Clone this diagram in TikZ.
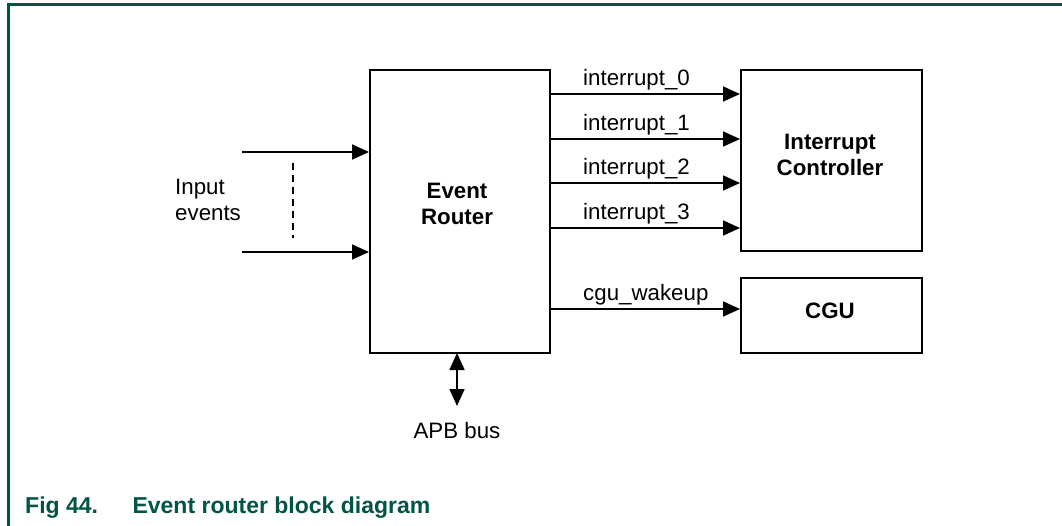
\documentclass[tikz,border=0pt]{standalone}
\usepackage{fontspec}
\setmainfont{Liberation Sans}
\usetikzlibrary{arrows.meta}
\definecolor{nxpgreen}{HTML}{005546}
\begin{document}
\begin{tikzpicture}[x=1pt,y=-1pt,
  blk/.style={draw, line width=1.6pt, inner sep=0pt, anchor=north west},
  lbl/.style={font=\fontsize{22.3}{26.5}\selectfont, inner sep=0pt},
  blbl/.style={font=\fontsize{22.3}{26.5}\selectfont\bfseries, align=center, inner sep=0pt},
  arr/.style={line width=1.7pt, -{Triangle[length=17pt,width=15pt]}},
  darr/.style={line width=1.7pt, {Triangle[length=17pt,width=15pt]}-{Triangle[length=17pt,width=15pt]}}]
\useasboundingbox (0,0) rectangle (1062,526);
% frame
\draw[nxpgreen, line width=2.2pt] (8.5,526) -- (8.5,4.5) -- (1062,4.5);
% blocks
\node[blk, minimum width=180pt, minimum height=283pt] (er) at (369,69) {};
\node[blk, minimum width=181pt, minimum height=181pt] (ic) at (740,69) {};
\node[blk, minimum width=181pt, minimum height=75pt] (cgu) at (740,277) {};
\node[blbl] (ert) at (457,204) {Event\\Router};
\node[blbl] (ict) at (830,155) {Interrupt\\Controller};
\node[blbl] (cgut) at (830,311) {CGU};
% interrupt arrows
\foreach \y/\n in {94/0,139/1,183/2,228/3}{
  \draw[arr] (er.east |- 0,\y) -- (ic.west |- 0,\y);
  \node[lbl, anchor=base west] (int\n) at (583,\y-8) {interrupt\_\n};
}
\draw[arr] (er.east |- 0,309) -- (cgu.west |- 0,309);
\node[lbl, anchor=base west] (cgw) at (583,301) {cgu\_wakeup};
% input events
\coordinate (in1) at (242,152);
\coordinate (in2) at (242,252);
\draw[arr] (in1) -- (er.west |- in1);
\draw[arr] (in2) -- (er.west |- in2);
\coordinate (d1) at (293,163);
\coordinate (d2) at (293,238);
\draw[line width=1.2pt, dash pattern=on 7pt off 5pt] (d1) -- (d2);
\node[lbl, align=left, anchor=west] (inev) at (175,200) {Input\\events};
% APB bus
\node[lbl] (apb) at (457,431) {APB bus};
\coordinate (apbtop) at (457,353);
\draw[darr] (apbtop) -- (457,406);
% caption
\node[font=\fontsize{23}{27}\selectfont\bfseries, text=nxpgreen, anchor=base west, inner sep=0pt] (cap) at (25,513) {Fig 44.\hspace{1.5em}Event router block diagram};
\end{tikzpicture}
\end{document}
